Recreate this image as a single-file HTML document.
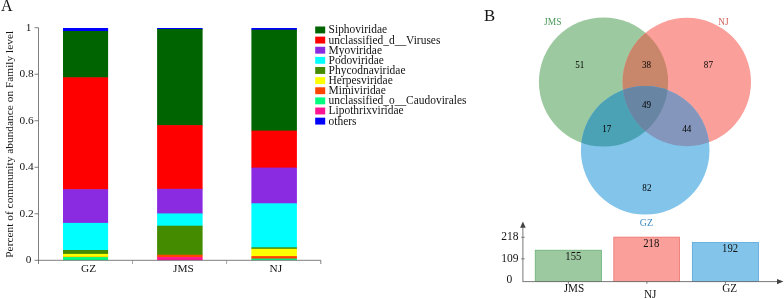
<!DOCTYPE html>
<html><head><meta charset="utf-8"><title>Figure</title>
<style>html,body{margin:0;padding:0;background:#fff;}svg{display:block;}text{font-family:"Liberation Serif", serif;fill:#141414;}</style>
</head><body>
<svg width="784" height="299" viewBox="0 0 784 299" style="will-change:transform">
<rect x="0" y="0" width="784" height="299" fill="#ffffff"/>
<text x="1.1" y="10.8" font-size="16">A</text>
<rect x="63.00" y="28.00" width="45.10" height="3.60" fill="#0000FF"/>
<rect x="63.00" y="31.00" width="45.10" height="46.90" fill="#006400"/>
<rect x="63.00" y="77.30" width="45.10" height="112.50" fill="#FF0000"/>
<rect x="63.00" y="189.20" width="45.10" height="34.30" fill="#8A2BE2"/>
<rect x="63.00" y="222.90" width="45.10" height="27.70" fill="#00FFFF"/>
<rect x="63.00" y="250.00" width="45.10" height="4.50" fill="#458B00"/>
<rect x="63.00" y="253.90" width="45.10" height="3.40" fill="#FFFF00"/>
<rect x="63.00" y="256.70" width="45.10" height="1.00" fill="#FF8C00"/>
<rect x="63.00" y="257.10" width="45.10" height="3.10" fill="#00FF7F"/>
<rect x="157.10" y="28.00" width="45.50" height="1.60" fill="#0000FF"/>
<rect x="157.10" y="29.00" width="45.50" height="96.70" fill="#006400"/>
<rect x="157.10" y="125.10" width="45.50" height="64.30" fill="#FF0000"/>
<rect x="157.10" y="188.80" width="45.50" height="25.20" fill="#8A2BE2"/>
<rect x="157.10" y="213.40" width="45.50" height="12.90" fill="#00FFFF"/>
<rect x="157.10" y="225.70" width="45.50" height="29.60" fill="#458B00"/>
<rect x="157.10" y="254.70" width="45.50" height="3.00" fill="#FF4500"/>
<rect x="157.10" y="257.10" width="45.50" height="3.10" fill="#FF1493"/>
<rect x="251.40" y="28.00" width="45.50" height="2.30" fill="#0000FF"/>
<rect x="251.40" y="29.70" width="45.50" height="101.50" fill="#006400"/>
<rect x="251.40" y="130.60" width="45.50" height="37.60" fill="#FF0000"/>
<rect x="251.40" y="167.60" width="45.50" height="36.30" fill="#8A2BE2"/>
<rect x="251.40" y="203.30" width="45.50" height="44.60" fill="#00FFFF"/>
<rect x="251.40" y="247.30" width="45.50" height="2.10" fill="#458B00"/>
<rect x="251.40" y="248.80" width="45.50" height="7.90" fill="#FFFF00"/>
<rect x="251.40" y="256.10" width="45.50" height="3.10" fill="#FF4500"/>
<rect x="251.40" y="258.60" width="45.50" height="1.60" fill="#00FF7F"/>
<g stroke="#606060" stroke-width="0.8" fill="none">
<path d="M38.50 27.7 V264"/>
<path d="M34.5 260.30 H320.8 V264"/>
<path d="M34.5 27.70 H38.50"/>
<path d="M34.5 74.22 H38.50"/>
<path d="M34.5 120.74 H38.50"/>
<path d="M34.5 167.26 H38.50"/>
<path d="M34.5 213.78 H38.50"/>
<path d="M132.50 260.30 V264" stroke="#808080" stroke-width="0.7"/>
<path d="M226.60 260.30 V264" stroke="#808080" stroke-width="0.7"/>
</g>
<text x="31.50" y="30.70" font-size="11.3" text-anchor="end">1</text>
<text x="33.70" y="77.22" font-size="11.3" text-anchor="end">0.8</text>
<text x="33.70" y="123.74" font-size="11.3" text-anchor="end">0.6</text>
<text x="33.70" y="170.26" font-size="11.3" text-anchor="end">0.4</text>
<text x="33.70" y="216.78" font-size="11.3" text-anchor="end">0.2</text>
<text x="31.50" y="263.30" font-size="11.3" text-anchor="end">0</text>
<text transform="translate(13.2,257.7) rotate(-90)" font-size="11.3" textLength="226.8" lengthAdjust="spacing">Percent of community abundance on Family level</text>
<text x="88.50" y="272.3" font-size="11.3" text-anchor="middle">GZ</text>
<text x="183.40" y="272.3" font-size="11.3" text-anchor="middle">JMS</text>
<text x="275.90" y="272.3" font-size="11.3" text-anchor="middle">NJ</text>
<rect x="315.2" y="26.50" width="10" height="6.9" fill="#006400"/>
<text x="328.6" y="33.40" font-size="11.45">Siphoviridae</text>
<rect x="315.2" y="36.63" width="10" height="6.9" fill="#FF0000"/>
<text x="328.6" y="43.53" font-size="11.45">unclassified_d__Viruses</text>
<rect x="315.2" y="46.76" width="10" height="6.9" fill="#8A2BE2"/>
<text x="328.6" y="53.66" font-size="11.45">Myoviridae</text>
<rect x="315.2" y="56.89" width="10" height="6.9" fill="#00FFFF"/>
<text x="328.6" y="63.79" font-size="11.45">Podoviridae</text>
<rect x="315.2" y="67.02" width="10" height="6.9" fill="#458B00"/>
<text x="328.6" y="73.92" font-size="11.45">Phycodnaviridae</text>
<rect x="315.2" y="77.15" width="10" height="6.9" fill="#FFFF00"/>
<text x="328.6" y="84.05" font-size="11.45">Herpesviridae</text>
<rect x="315.2" y="87.28" width="10" height="6.9" fill="#FF4500"/>
<text x="328.6" y="94.18" font-size="11.45">Mimiviridae</text>
<rect x="315.2" y="97.41" width="10" height="6.9" fill="#00FF7F"/>
<text x="328.6" y="104.31" font-size="11.45">unclassified_o__Caudovirales</text>
<rect x="315.2" y="107.54" width="10" height="6.9" fill="#FF1493"/>
<text x="328.6" y="114.44" font-size="11.45">Lipothrixviridae</text>
<rect x="315.2" y="117.67" width="10" height="6.9" fill="#0000FF"/>
<text x="328.6" y="124.57" font-size="11.45">others</text>
<text x="484.1" y="20.8" font-size="16.8">B</text>
<defs>
<clipPath id="cG"><circle cx="603.50" cy="82.00" r="64.60"/></clipPath>
<clipPath id="cR"><circle cx="686.80" cy="82.00" r="64.20"/></clipPath>
<clipPath id="cB"><circle cx="645.20" cy="150.30" r="64.30"/></clipPath>
</defs>
<circle cx="603.50" cy="82.00" r="64.60" fill="#9dc9a0"/>
<circle cx="686.80" cy="82.00" r="64.20" fill="#fa9f99"/>
<circle cx="686.80" cy="82.00" r="64.20" fill="#c8866a" clip-path="url(#cG)"/>
<circle cx="645.20" cy="150.30" r="64.30" fill="#82c4ea"/>
<circle cx="645.20" cy="150.30" r="64.30" fill="#4ca2b5" clip-path="url(#cG)"/>
<circle cx="645.20" cy="150.30" r="64.30" fill="#8496bc" clip-path="url(#cR)"/>
<g clip-path="url(#cG)"><circle cx="645.20" cy="150.30" r="64.30" fill="#6886a3" clip-path="url(#cR)"/></g>
<text x="544" y="24.5" font-size="9.5" style="fill:#4a9a5c">JMS</text>
<text x="718.2" y="24.6" font-size="9.3" style="fill:#d35f5a">NJ</text>
<text x="646.4" y="225.8" font-size="9.8" text-anchor="middle" style="fill:#3a8cc8">GZ</text>
<text transform="translate(579.70,67.60) scale(0.92,1)" font-size="9.9" text-anchor="middle" style="fill:#000">51</text>
<text transform="translate(646.60,67.60) scale(0.92,1)" font-size="9.9" text-anchor="middle" style="fill:#000">38</text>
<text transform="translate(708.40,67.60) scale(0.92,1)" font-size="9.9" text-anchor="middle" style="fill:#000">87</text>
<text transform="translate(646.50,107.80) scale(0.92,1)" font-size="9.9" text-anchor="middle" style="fill:#000">49</text>
<text transform="translate(606.70,131.80) scale(0.92,1)" font-size="9.9" text-anchor="middle" style="fill:#000">17</text>
<text transform="translate(686.70,131.80) scale(0.92,1)" font-size="9.9" text-anchor="middle" style="fill:#000">44</text>
<text transform="translate(646.90,190.70) scale(0.92,1)" font-size="9.9" text-anchor="middle" style="fill:#000">82</text>
<rect x="535.2" y="250.2" width="66.3" height="31.40" fill="#9dc9a0" stroke="#5fae6e" stroke-width="0.7"/>
<rect x="613.8" y="237.1" width="65.8" height="44.50" fill="#fa9f99" stroke="#ea6a64" stroke-width="0.7"/>
<rect x="692.3" y="242.5" width="66.2" height="39.10" fill="#82c4ea" stroke="#4a9fd8" stroke-width="0.7"/>
<g stroke="#6a6a6a" stroke-width="0.9" fill="none">
<path d="M522.9 281.60 V226"/>
<path d="M522.5 281.60 H778"/>
<path d="M521.3 237.3 H524.6 M521.3 258.8 H524.6"/>
<path d="M568.4 281.60 v2.2 M646.9 281.60 v2.2 M725.4 281.60 v2.2"/>
</g>
<path d="M522.9 221.5 l2.8 6.3 h-5.6 z" fill="#444"/>
<path d="M783.4 281.60 l-6.4 -2.7 v5.4 z" fill="#444"/>
<text x="518.50" y="240.20" font-size="11.5" text-anchor="end">218</text>
<text x="518.50" y="261.90" font-size="11.5" text-anchor="end">109</text>
<text x="512.30" y="283.20" font-size="11.5" text-anchor="end">0</text>
<text transform="translate(573.30,259.70) scale(0.93,1)" font-size="11.5" text-anchor="middle">155</text>
<text transform="translate(651.20,247.10) scale(0.93,1)" font-size="11.5" text-anchor="middle">218</text>
<text transform="translate(730.10,252.40) scale(0.93,1)" font-size="11.5" text-anchor="middle">192</text>
<text transform="translate(574.00,291.80) scale(0.95,1)" font-size="11.8" text-anchor="middle">JMS</text>
<text transform="translate(650.20,298.10) scale(0.95,1)" font-size="11.8" text-anchor="middle">NJ</text>
<text transform="translate(729.60,291.80) scale(0.95,1)" font-size="11.8" text-anchor="middle">GZ</text>
</svg>
</body></html>
